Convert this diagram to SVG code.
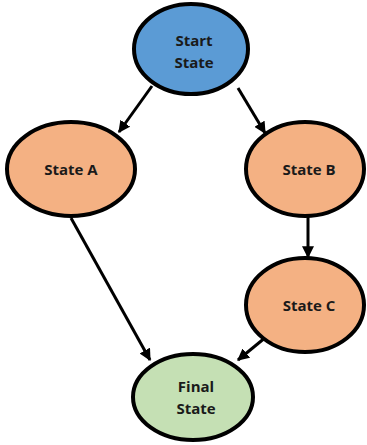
<svg xmlns="http://www.w3.org/2000/svg" width="367" height="445" viewBox="0 0 367 445">
  <style>
    .node { stroke: #000; stroke-width: 4; }
    .start { fill: #5b9bd5; }
    .mid { fill: #f4b183; }
    .final { fill: #c5e0b4; }
    .label { font-family: "Open Sans", "Liberation Sans", sans-serif; font-weight: bold; font-size: 15px; fill: #1a1a1a; text-anchor: middle; }
    .edge { stroke: #000; stroke-width: 3; fill: none; marker-end: url(#arrow); }
  </style>
  <defs>
    <marker id="arrow" viewBox="0 0 10 10" refX="9" refY="5" markerWidth="4" markerHeight="4" orient="auto" markerUnits="strokeWidth">
      <path d="M0,0 L10,5 L0,10 z" fill="#000"/>
    </marker>
  </defs>
  <rect width="367" height="445" fill="#fff"/>

  <g id="connectors">
    <line class="edge" x1="152" y1="86" x2="119" y2="132"/>
    <line class="edge" x1="238" y1="88" x2="265" y2="133"/>
    <line class="edge" x1="71" y1="218" x2="150" y2="360"/>
    <line class="edge" x1="308" y1="217" x2="308" y2="257"/>
    <line class="edge" x1="266" y1="337" x2="238" y2="360"/>
  </g>

  <g id="start">
    <ellipse class="node start" cx="191" cy="49" rx="57" ry="45"/>
    <text class="label" x="194" y="46">Start</text>
    <text class="label" x="194" y="68">State</text>
  </g>
  <g id="stateA">
    <ellipse class="node mid" cx="71" cy="169" rx="64" ry="47"/>
    <text class="label" x="71" y="175">State A</text>
  </g>
  <g id="stateB">
    <ellipse class="node mid" cx="305" cy="169" rx="59" ry="47"/>
    <text class="label" x="309" y="175">State B</text>
  </g>
  <g id="stateC">
    <ellipse class="node mid" cx="305" cy="305" rx="59" ry="47"/>
    <text class="label" x="309" y="311">State C</text>
  </g>
  <g id="final">
    <ellipse class="node final" cx="193" cy="397" rx="60" ry="43"/>
    <text class="label" x="196" y="392">Final</text>
    <text class="label" x="196" y="414">State</text>
  </g>
</svg>
